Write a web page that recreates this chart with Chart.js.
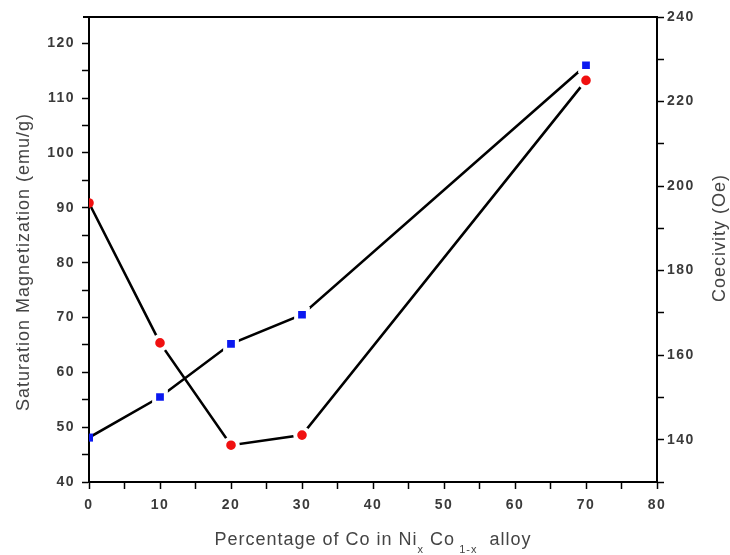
<!DOCTYPE html>
<html>
<head>
<meta charset="utf-8">
<script src="https://cdn.jsdelivr.net/npm/chart.js@4/dist/chart.umd.min.js"></script>
<style>
  body { margin: 0; background: #fff; }
  canvas { display: block; }
</style>
</head>
<body>
<canvas id="chart" width="730" height="555"></canvas>
<script>
// Co content (%) in the NixCo1-x alloy
const coPercent = [0, 10, 20, 30, 70];
// saturation magnetization, emu/g (left axis, blue squares)
const magnetization = [48.1, 55.5, 65.2, 70.5, 116.0];
// coercivity, Oe (right axis, red dots)
const coercivity = [196, 162.9, 138.7, 141.1, 225];

const leftTitle = 'Saturation Magnetization (emu/g)';
const rightTitle = 'Coecivity (Oe)';

const tickFont = { family: 'Liberation Sans, Arial, sans-serif', size: 14, weight: 'bold' };
const tickColor = '#3a3a3a';

function toPoints(xs, ys) {
    return xs.map((x, i) => ({ x: x, y: ys[i] }));
}

// keep only the round ticks (drop the odd max value chart.js adds)
function keepStep(step) {
    return function (scale) {
        scale.ticks = scale.ticks.filter(t => Math.abs(t.value / step - Math.round(t.value / step)) < 1e-6);
    };
}

// white ring round the markers gives the small gap where the line meets them,
// but not on the axis itself
const onAxis = c => c.raw && c.raw.x === 0;

const spacing = {
    id: 'spacing',
    beforeUpdate(chart) { chart.ctx.letterSpacing = '1.5px'; },
    beforeDraw(chart) { chart.ctx.letterSpacing = '1.5px'; }
};

const frame = {
    id: 'frame',
    afterDraw(chart) {
        const ctx = chart.ctx;
        const a = chart.chartArea;
        ctx.save();
        ctx.strokeStyle = '#000';
        ctx.lineWidth = 2;
        ctx.beginPath();
        ctx.moveTo(a.left - 6, a.top);
        ctx.lineTo(a.right, a.top);
        ctx.stroke();

        const big = '18px Liberation Sans, Arial, sans-serif';
        const small = '11px Liberation Sans, Arial, sans-serif';
        ctx.fillStyle = '#444';
        ctx.letterSpacing = '1px';
        ctx.font = big;
        ctx.textAlign = 'center';
        ctx.textBaseline = 'middle';

        // left title
        ctx.save();
        ctx.translate(24, 262);
        ctx.rotate(-Math.PI / 2);
        ctx.fillText(leftTitle, 0, 0);
        ctx.restore();

        // right title
        ctx.save();
        ctx.translate(720, 238);
        ctx.rotate(-Math.PI / 2);
        ctx.fillText(rightTitle, 0, 0);
        ctx.restore();

        // bottom title with subscripts
        const parts = [
            ['Percentage of Co in Ni', big, 0],
            ['x', small, 8],
            [' Co', big, 0],
            [' 1-x', small, 8],
            ['  alloy', big, 0]
        ];
        let total = 0;
        parts.forEach(p => { ctx.font = p[1]; total += ctx.measureText(p[0]).width; });
        let x = (a.left + a.right) / 2 - total / 2;
        ctx.textAlign = 'left';
        ctx.textBaseline = 'alphabetic';
        parts.forEach(p => {
            ctx.font = p[1];
            ctx.fillText(p[0], x, 545 + p[2]);
            x += ctx.measureText(p[0]).width;
        });
        ctx.restore();
    }
};

new Chart(document.getElementById('chart'), {
    type: 'line',
    data: {
        datasets: [{
            label: 'Saturation Magnetization',
            data: toPoints(coPercent, magnetization),
            yAxisID: 'y',
            borderColor: '#000',
            borderWidth: 2.6,
            pointStyle: 'rect',
            pointRadius: c => (onAxis(c) ? 5.7 : 8.3),
            pointBackgroundColor: '#0a18f0',
            pointBorderColor: '#fff',
            pointBorderWidth: c => (onAxis(c) ? 0 : 4),
            tension: 0
        }, {
            label: 'Coercivity',
            data: toPoints(coPercent, coercivity),
            yAxisID: 'y1',
            borderColor: '#000',
            borderWidth: 2.6,
            pointStyle: 'circle',
            pointRadius: c => (onAxis(c) ? 4.8 : 6.8),
            pointBackgroundColor: '#f01010',
            pointBorderColor: '#fff',
            pointBorderWidth: c => (onAxis(c) ? 0 : 4),
            tension: 0
        }]
    },
    options: {
        responsive: false,
        animation: false,
        layout: { padding: { top: 17, left: 0, right: 0, bottom: 0 } },
        plugins: {
            legend: { display: false },
            tooltip: { enabled: false }
        },
        scales: {
            x: {
                type: 'linear',
                min: 0,
                max: 80,
                afterBuildTicks: keepStep(5),
                afterFit(scale) { scale.height = 73; },
                ticks: {
                    stepSize: 5,
                    autoSkip: false,
                    maxRotation: 0,
                    padding: 8,
                    font: tickFont,
                    color: tickColor,
                    callback: v => (v % 10 === 0 ? v : '')
                },
                grid: { drawOnChartArea: false, tickLength: 7, tickColor: '#000', tickWidth: 1.5 },
                border: { color: '#000', width: 2 }
            },
            y: {
                position: 'left',
                min: 40,
                max: 124.8,
                afterBuildTicks: keepStep(5),
                afterFit(scale) { scale.width = 89; },
                ticks: {
                    stepSize: 5,
                    autoSkip: false,
                    padding: 7,
                    font: tickFont,
                    color: tickColor,
                    callback: v => (v % 10 === 0 ? v : '')
                },
                grid: { drawOnChartArea: false, tickLength: 7, tickColor: '#000', tickWidth: 1.5 },
                border: { color: '#000', width: 2 }
            },
            y1: {
                position: 'right',
                min: 130,
                max: 240,
                afterBuildTicks: keepStep(10),
                afterFit(scale) { scale.width = 73; },
                ticks: {
                    stepSize: 10,
                    autoSkip: false,
                    padding: 3,
                    font: tickFont,
                    color: tickColor,
                    callback: v => ((v - 140) % 20 === 0 ? v : '')
                },
                grid: { drawOnChartArea: false, tickLength: 7, tickColor: '#000', tickWidth: 1.5 },
                border: { color: '#000', width: 2 }
            }
        }
    },
    plugins: [spacing, frame]
});
</script>
</body>
</html>
